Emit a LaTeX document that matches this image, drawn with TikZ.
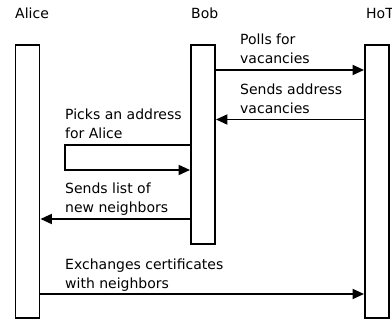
\documentclass[tikz,border=0pt]{standalone}
\usepackage{fontspec}
\setmainfont{DejaVu Sans}
\usetikzlibrary{arrows.meta}
\tikzset{
  lifebar/.style={draw=black, line width=1.9pt, fill=white, inner sep=0pt, minimum width=24pt},
  actor/.style={anchor=base west, inner sep=0pt, font=\fontsize{14}{19}\selectfont},
  lbl/.style={anchor=south west, inner sep=0pt, align=left, text depth=0pt, font=\fontsize{14}{19}\selectfont},
  msg/.style={line width=1.9pt, -{Triangle[length=11.5pt,width=10pt]}},
}
\begin{document}
\begin{tikzpicture}[x=1pt,y=-1pt]
\useasboundingbox (0,0) rectangle (392,320);
\clip (0,0) rectangle (392,320);
% actors
\node[actor] (tAlice) at (15,19) {Alice};
\node[actor] (tBob) at (191,19) {Bob};
\node[actor] (tHoT) at (366,19) {HoT};
% lifelines
\node[lifebar, minimum height=273pt] (alice) at (27.5,181.5) {};
\node[lifebar, minimum height=199pt] (bob) at (203,144.5) {};
\node[lifebar, minimum height=273pt] (hot) at (377,181.5) {};
% messages
\draw[msg] (bob.east |- 0,70) -- (hot.west |- 0,70);
\node[lbl] (l1) at (240,64) {Polls for\\vacancies};
\draw[msg] (hot.west |- 0,119.5) -- (bob.east |- 0,119.5);
\node[lbl] (l2) at (240,113.5) {Sends address\\vacancies};
\coordinate (lpA) at (65,145);
\coordinate (lpB) at (65,170);
\draw[msg] (bob.west |- lpA) -- (lpA) -- (lpB) -- (bob.west |- lpB);
\node[lbl] (l3) at (65,139) {Picks an address\\for Alice};
\draw[msg] (bob.west |- 0,219) -- (alice.east |- 0,219);
\node[lbl] (l4) at (65,213) {Sends list of\\new neighbors};
\draw[msg] (alice.east |- 0,294) -- (hot.west |- 0,294);
\node[lbl] (l5) at (65,288.5) {Exchanges certificates\\with neighbors};
\end{tikzpicture}
\end{document}
